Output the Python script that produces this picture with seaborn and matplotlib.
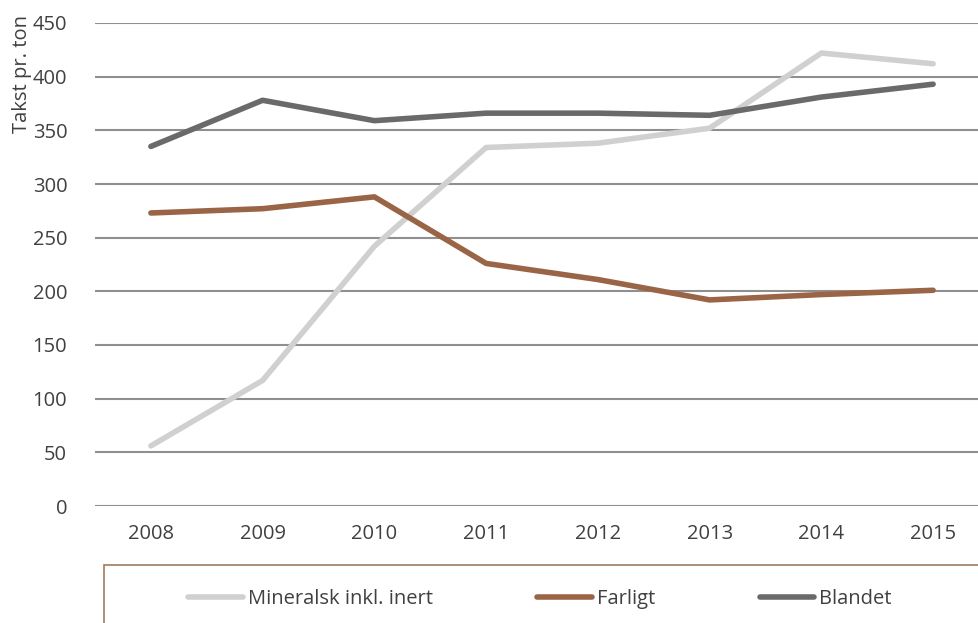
import pandas as pd
import matplotlib
matplotlib.use("Agg")
import matplotlib.pyplot as plt
from matplotlib.patches import Rectangle
import seaborn as sns

years = ["2008", "2009", "2010", "2011", "2012", "2013", "2014", "2015"]
mineralsk = [56, 117, 242, 334, 338, 352, 422, 412]
farligt = [273, 277, 288, 226, 211, 192, 197, 201]
blandet = [335, 378, 359, 366, 366, 364, 381, 393]

series = ["Mineralsk inkl. inert", "Farligt", "Blandet"]
colors = ["#d0d0d0", "#9a6446", "#6a6a6a"]

df = pd.DataFrame({
    "pos": list(range(len(years))) * 3,
    "value": mineralsk + farligt + blandet,
    "series": [series[0]] * 8 + [series[1]] * 8 + [series[2]] * 8,
})

sns.set_style("white")
plt.rcParams['font.family'] = ['Open Sans', 'DejaVu Sans']

fig = plt.figure(figsize=(9.79, 6.23), dpi=100)
ax = fig.add_axes([95 / 979, 1 - 506 / 623, (989 - 95) / 979, (506 - 23) / 623])

sns.lineplot(data=df, x="pos", y="value", hue="series", palette=colors,
             linewidth=4, ax=ax, legend=False, solid_capstyle="round")

ax.set_xlim(-0.5, 7.5)
ax.set_ylim(0, 450)
ax.set_yticks(range(0, 451, 50))
ax.set_xticks(range(len(years)))
ax.set_xticklabels(years)
ax.yaxis.grid(True, color="#8f8f8f", linewidth=1.5)
ax.set_axisbelow(True)
for s in ax.spines.values():
    s.set_visible(False)
ax.tick_params(axis="both", length=0, labelsize=14.5, colors="#404040")
ax.tick_params(axis="y", pad=20)
ax.tick_params(axis="x", pad=13)
ax.set_xlabel("")
ax.set_ylabel("Takst pr. ton", fontsize=14.5, color="#404040")
ax.yaxis.set_label_coords(-0.07, 0.895)

# legend box (clipped by figure edge like the original)
fig.patches.append(Rectangle((104 / 979, -0.05), 1.0, 1 - 565 / 623 + 0.05,
                             transform=fig.transFigure, fill=False,
                             edgecolor="#a07a5e", linewidth=1.2))

handles = [plt.Line2D([], [], color=c, linewidth=4, solid_capstyle="round") for c in colors]
fig.legend(handles, series, loc="center", bbox_to_anchor=(540 / 979, 1 - 599 / 623),
           ncol=3, frameon=False, fontsize=14.5, handlelength=2.7, handletextpad=0.25,
           columnspacing=5.2, labelcolor="#404040")

fig.savefig("out.png", dpi=100)
